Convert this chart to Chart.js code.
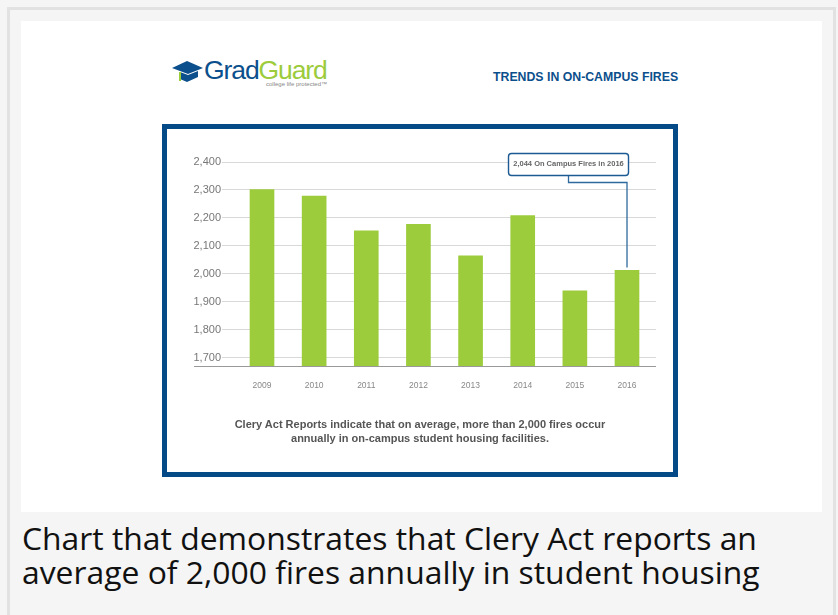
<!DOCTYPE html>
<html>
<head>
<meta charset="utf-8">
<script src="https://cdn.jsdelivr.net/npm/chart.js@4"></script>
<style>
  html, body { margin: 0; padding: 0; }
  body { width: 838px; height: 615px; overflow: hidden; background: #f5f5f5; position: relative; }
  .abs { position: absolute; white-space: nowrap; }
  #edge { left: 7px; top: 7px; width: 823px; height: 620px; border: 3px solid #e2e2e2; }
  #panel { left: 21px; top: 21px; width: 801px; height: 491px; background: #fff; }
  #frame { left: 162px; top: 124px; width: 506px; height: 343px; border: 5px solid #044a86; background: #fff; }
  #frame canvas { display: block; }
  #title { left: 493px; top: 70px; font: bold 12.3px "Liberation Sans"; color: #0b4f8c; }
  #grad { left: 204px; top: 55px; font: 26.5px "Liberation Sans"; letter-spacing: -1.1px; color: #0b4f8c; }
  #grad span { color: #9ccb3c; }
  #tag { left: 266px; top: 81px; font: 6px "Liberation Sans"; color: #888; }
  #hat { left: 172px; top: 60px; }
  .note { left: 162px; width: 516px; text-align: center; font: bold 11px "Liberation Sans"; color: #555; }
  .cap { left: 22px; font: 31.87px "Open Sans"; color: #111; line-height: 34px; }
</style>
</head>
<body>
<div class="abs" id="edge"></div>
<div class="abs" id="panel"></div>
<svg class="abs" id="hat" width="32" height="24" viewBox="0 0 32 24">
  <path d="M0 8 L15 1 L31 8 L16 14 Z" fill="#0b4f8c"/>
  <path d="M8 12 L16 15 L26 11 L26 17 L15 22 L8 19 Z" fill="#0b4f8c"/>
  <path d="M7 12 L9 12 L9 21 L7 21 Z" fill="#9ccb3c"/>
</svg>
<div class="abs" id="grad">Grad<span>Guard</span></div>
<div class="abs" id="tag">college life protected™</div>
<div class="abs" id="title">TRENDS IN ON-CAMPUS FIRES</div>
<div class="abs" id="frame"><canvas id="chart" width="506" height="343"></canvas></div>
<div class="abs note" style="top:418px">Clery Act Reports indicate that on average, more than 2,000 fires occur</div>
<div class="abs note" style="top:432px">annually in on-campus student housing facilities.</div>
<div class="abs cap" style="top:521px">Chart that demonstrates that Clery Act reports an</div>
<div class="abs cap" style="top:555px">average of 2,000 fires annually in student housing</div>

<script>
const years = [2009, 2010, 2011, 2012, 2013, 2014, 2015, 2016];
const fires = [2301, 2278, 2154, 2177, 2064, 2208, 1939, 2012];
const calloutText = '2,044 On Campus Fires in 2016';

// baseline runs out under the y labels, gridlines do not
const baseline = {
  id: 'baseline',
  afterDatasetsDraw(chart) {
    const { ctx, chartArea, scales } = chart;
    const y = Math.floor(scales.y.getPixelForValue(scales.y.min)) + 0.5;
    ctx.save();
    ctx.strokeStyle = '#999';
    ctx.lineWidth = 1;
    ctx.beginPath();
    ctx.moveTo(27, y);
    ctx.lineTo(chartArea.right, y);
    ctx.stroke();
    ctx.restore();
  }
};

const callout = {
  id: 'callout',
  afterDatasetsDraw(chart) {
    const { ctx, scales } = chart;
    const last = years.length - 1;
    const px = scales.x.getPixelForValue(years[last]);
    const py = scales.y.getPixelForValue(fires[last]);
    const bx = px - 118.5, by = 24.5, bw = 120, bh = 22;
    ctx.save();
    ctx.strokeStyle = '#2f6a9e';
    ctx.lineWidth = 1.3;
    ctx.beginPath();
    ctx.moveTo(bx + 60, by + bh);
    ctx.lineTo(bx + 60, by + bh + 7);
    ctx.lineTo(px, by + bh + 7);
    ctx.lineTo(px, py - 3);
    ctx.stroke();
    ctx.fillStyle = '#fff';
    ctx.strokeStyle = '#1b5a92';
    ctx.lineWidth = 1.4;
    ctx.beginPath();
    ctx.roundRect(bx, by, bw, bh, 3);
    ctx.fill();
    ctx.stroke();
    ctx.fillStyle = '#666';
    ctx.font = 'bold 7.5px "Liberation Sans"';
    ctx.textAlign = 'center';
    ctx.textBaseline = 'middle';
    ctx.fillText(calloutText, bx + bw / 2, by + bh / 2 - 0.5);
    ctx.restore();
  }
};

new Chart(document.getElementById('chart'), {
  type: 'bar',
  data: {
    datasets: [{
      data: years.map((yr, i) => ({ x: yr, y: fires[i] })),
      backgroundColor: '#9ccc3c',
      barThickness: 24
    }]
  },
  options: {
    responsive: false,
    animation: false,
    layout: { padding: { top: 33, right: 17, left: 0, bottom: 0 } },
    plugins: { legend: { display: false }, tooltip: { enabled: false } },
    scales: {
      x: {
        type: 'linear',
        offset: false,
        min: 2008.233,
        max: 2016.556,
        grid: { display: false },
        border: { display: false },
        afterFit(s) { s.height = 105.5; },
        ticks: {
          stepSize: 1,
          includeBounds: false,
          maxRotation: 0,
          padding: 6,
          color: '#888',
          font: { family: 'Liberation Sans', size: 8.5 },
          callback: v => String(v)
        }
      },
      y: {
        min: 1668,
        max: 2400,
        grid: { color: '#d9d9d9', drawTicks: false },
        border: { display: false },
        afterFit(s) { s.width = 55; },
        ticks: {
          stepSize: 100,
          includeBounds: false,
          padding: 1,
          color: '#777',
          font: { family: 'Liberation Sans', size: 11 },
          callback: v => v.toLocaleString('en-US')
        }
      }
    }
  },
  plugins: [baseline, callout]
});
</script>
</body>
</html>
